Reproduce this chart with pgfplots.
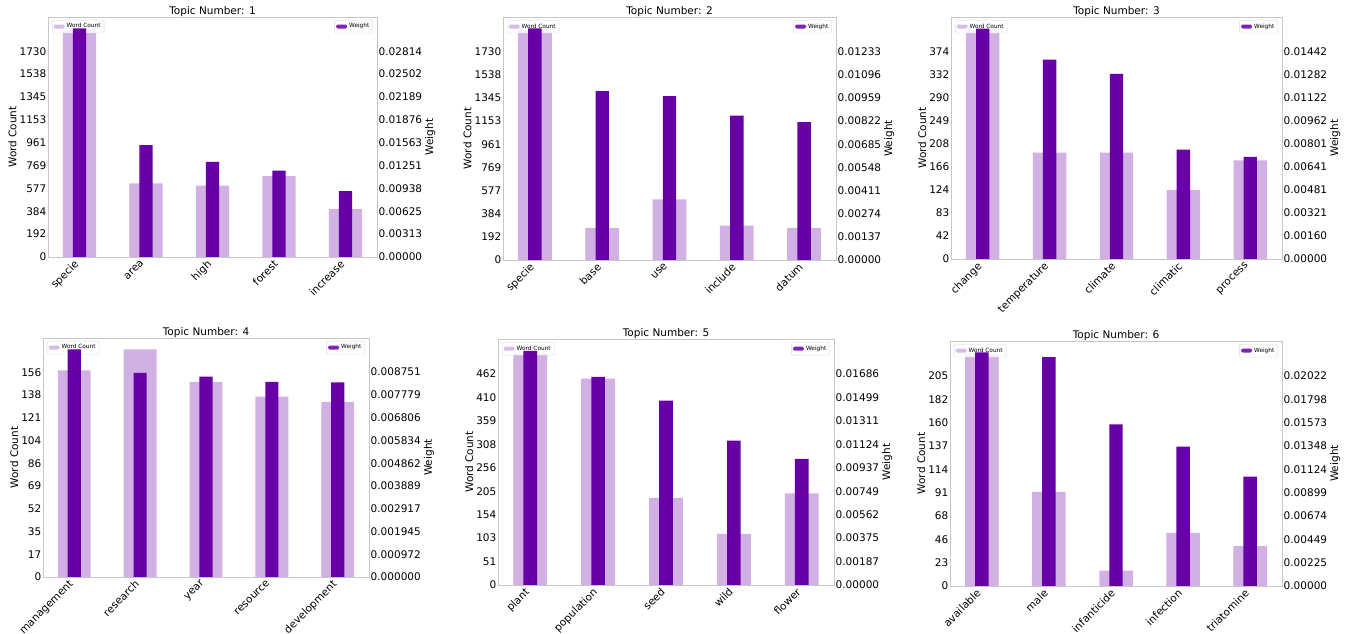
\documentclass[border=0pt]{standalone}
\usepackage{fontspec}
\setmainfont{DejaVu Sans}
\usepackage{pgfplots}
\pgfplotsset{compat=1.18}
\definecolor{lightp}{RGB}{209,176,227}
\definecolor{darkp}{RGB}{104,0,168}
\pgfplotsset{
  base/.style={
    scale only axis, ymin=0, xmin=-0.475, xmax=4.475,
    xtick={0,1,2,3,4}, enlargelimits=false,
    scaled y ticks=false, scaled x ticks=false,
    axis line style={draw=black!22, line width=0.8pt},
    major tick length=0pt, tick style={draw=none},
    /pgf/number format/assume math mode=true,
    tick label style={font=\fontsize{10.5}{12}\selectfont, inner sep=1.5pt},
    label style={font=\fontsize{10.5}{12}\selectfont},
    title style={font=\fontsize{10.5}{12}\selectfont, yshift=-9pt},
    legend style={font=\fontsize{5.8}{7}\selectfont, draw=black!15, fill=white, fill opacity=0.85, text opacity=1, rounded corners=1.5pt, inner sep=1.5pt},
    legend cell align=left,
  },
  leftax/.style={base, ybar, bar width=0.5,
    xticklabel style={xshift=-6pt, rotate=45, anchor=north east},
    ylabel={Word Count},
    ylabel style={yshift=-2pt},
    legend style={at={(0.012,0.988)}, anchor=north west},
    legend image code/.code={\fill[##1] (0pt,-2pt) rectangle (11pt,2pt);},
  },
  rightax/.style={base, ybar, bar width=0.2,
    axis y line*=right, axis x line=none,
    ylabel={Weight},
    ylabel style={yshift=2pt},
    legend style={at={(0.988,0.988)}, anchor=north east},
    legend image code/.code={\fill[##1] (0pt,-2pt) rectangle (11pt,2pt);},
  },
}
\begin{document}
\begin{tikzpicture}
\path[use as bounding box] (0,0) rectangle (1351pt,634pt);
% ---------------- Topic 1
\begin{axis}[leftax, at={(48pt,377pt)}, anchor=south west, width=329pt, height=240pt,
  title={Topic Number: 1}, ymax=2018.1,
  ytick={0,192.2,384.4,576.6,768.8,961,1153.2,1345.4,1537.6,1729.8},
  yticklabels={0,192,384,577,769,961,1153,1345,1538,1730},
  xticklabels={specie,area,high,forest,increase}]
\addplot[fill=lightp, draw=none] coordinates {(0,1911) (1,618) (2,601) (3,680) (4,403)};
\addlegendentry{Word Count}
\end{axis}
\begin{axis}[rightax, at={(48pt,377pt)}, anchor=south west, width=329pt, height=240pt,
  ymax=0.032830,
  ytick={0,0.0031267,0.0062533,0.00938,0.0125067,0.0156333,0.01876,0.0218867,0.0250133,0.02814},
  yticklabels={0.00000,0.00313,0.00625,0.00938,0.01251,0.01563,0.01876,0.02189,0.02502,0.02814}]
\addplot[fill=darkp, draw=none] coordinates {(0,0.03127) (1,0.01529) (2,0.01300) (3,0.01180) (4,0.00900)};
\addlegendentry{Weight}
\end{axis}
% ---------------- Topic 2
\begin{axis}[leftax, at={(503pt,374pt)}, anchor=south west, width=333pt, height=243pt,
  title={Topic Number: 2}, ymax=2018.1,
  ytick={0,192.2,384.4,576.6,768.8,961,1153.2,1345.4,1537.6,1729.8},
  yticklabels={0,192,384,577,769,961,1153,1345,1538,1730},
  xticklabels={specie,base,use,include,datum}]
\addplot[fill=lightp, draw=none] coordinates {(0,1911) (1,267) (2,503) (3,286) (4,267)};
\addlegendentry{Word Count}
\end{axis}
\begin{axis}[rightax, at={(503pt,374pt)}, anchor=south west, width=333pt, height=243pt,
  ymax=0.014385,
  ytick={0,0.00137,0.00274,0.00411,0.00548,0.00685,0.00822,0.00959,0.01096,0.01233},
  yticklabels={0.00000,0.00137,0.00274,0.00411,0.00548,0.00685,0.00822,0.00959,0.01096,0.01233}]
\addplot[fill=darkp, draw=none] coordinates {(0,0.01371) (1,0.01000) (2,0.00970) (3,0.00855) (4,0.00816)};
\addlegendentry{Weight}
\end{axis}
% ---------------- Topic 3
\begin{axis}[leftax, at={(951pt,375pt)}, anchor=south west, width=331pt, height=242pt,
  title={Topic Number: 3}, ymax=436.4,
  ytick={0,41.56,83.12,124.68,166.24,207.8,249.36,290.92,332.48,374.04},
  yticklabels={0,42,83,124,166,208,249,290,332,374},
  xticklabels={change,temperature,climate,climatic,process}]
\addplot[fill=lightp, draw=none] coordinates {(0,413) (1,192) (2,192) (3,124) (4,178)};
\addlegendentry{Word Count}
\end{axis}
\begin{axis}[rightax, at={(951pt,375pt)}, anchor=south west, width=331pt, height=242pt,
  ymax=0.016823,
  ytick={0,0.0016022,0.0032044,0.0048067,0.0064089,0.0080111,0.0096133,0.0112156,0.0128178,0.01442},
  yticklabels={0.00000,0.00160,0.00321,0.00481,0.00641,0.00801,0.00962,0.01122,0.01282,0.01442}]
\addplot[fill=darkp, draw=none] coordinates {(0,0.01602) (1,0.01386) (2,0.01287) (3,0.00761) (4,0.00710)};
\addlegendentry{Weight}
\end{axis}
% ---------------- Topic 4
\begin{axis}[leftax, at={(43pt,57pt)}, anchor=south west, width=326pt, height=239pt,
  title={Topic Number: 4}, ymax=181.6,
  ytick={0,17.29,34.58,51.87,69.16,86.45,103.74,121.03,138.32,155.61},
  yticklabels={0,17,35,52,69,86,104,121,138,156},
  xticklabels={management,research,year,resource,development}]
\addplot[fill=lightp, draw=none] coordinates {(0,157) (1,173) (2,148) (3,137) (4,133)};
\addlegendentry{Word Count}
\end{axis}
\begin{axis}[rightax, at={(43pt,57pt)}, anchor=south west, width=326pt, height=239pt,
  ymax=0.0102094,
  ytick={0,0.00097233,0.00194467,0.002917,0.00388933,0.00486167,0.005834,0.00680633,0.00777867,0.008751},
  yticklabels={0.000000,0.000972,0.001945,0.002917,0.003889,0.004862,0.005834,0.006806,0.007779,0.008751}]
\addplot[fill=darkp, draw=none] coordinates {(0,0.00972) (1,0.00872) (2,0.00856) (3,0.00834) (4,0.00831)};
\addlegendentry{Weight}
\end{axis}
% ---------------- Topic 5
\begin{axis}[leftax, at={(498pt,49pt)}, anchor=south west, width=336pt, height=246pt,
  title={Topic Number: 5}, ymax=539,
  ytick={0,51.33,102.67,154,205.33,256.67,308,359.33,410.67,462},
  yticklabels={0,51,103,154,205,256,308,359,410,462},
  xticklabels={plant,population,seed,wild,flower}]
\addplot[fill=lightp, draw=none] coordinates {(0,509) (1,452) (2,191) (3,112) (4,201)};
\addlegendentry{Word Count}
\end{axis}
\begin{axis}[rightax, at={(498pt,49pt)}, anchor=south west, width=336pt, height=246pt,
  ymax=0.01967,
  ytick={0,0.0018733,0.0037467,0.00562,0.0074933,0.0093667,0.01124,0.0131133,0.0149867,0.01686},
  yticklabels={0.00000,0.00187,0.00375,0.00562,0.00749,0.00937,0.01124,0.01311,0.01499,0.01686}]
\addplot[fill=darkp, draw=none] coordinates {(0,0.01873) (1,0.01665) (2,0.01474) (3,0.01154) (4,0.01008)};
\addlegendentry{Weight}
\end{axis}
% ---------------- Topic 6
\begin{axis}[leftax, at={(950pt,48pt)}, anchor=south west, width=332pt, height=245pt,
  title={Topic Number: 6}, ymax=239.4,
  ytick={0,22.8,45.6,68.4,91.2,114,136.8,159.6,182.4,205.2},
  yticklabels={0,23,46,68,91,114,137,160,182,205},
  xticklabels={available,male,infanticide,infection,triatomine}]
\addplot[fill=lightp, draw=none] coordinates {(0,227) (1,92) (2,15) (3,52) (4,39)};
\addlegendentry{Word Count}
\end{axis}
\begin{axis}[rightax, at={(950pt,48pt)}, anchor=south west, width=332pt, height=245pt,
  ymax=0.02359,
  ytick={0,0.0022467,0.0044933,0.00674,0.0089867,0.0112333,0.01348,0.0157267,0.0179733,0.02022},
  yticklabels={0.00000,0.00225,0.00449,0.00674,0.00899,0.01124,0.01348,0.01573,0.01798,0.02022}]
\addplot[fill=darkp, draw=none] coordinates {(0,0.02250) (1,0.02204) (2,0.01555) (3,0.01341) (4,0.01054)};
\addlegendentry{Weight}
\end{axis}
\end{tikzpicture}
\end{document}
